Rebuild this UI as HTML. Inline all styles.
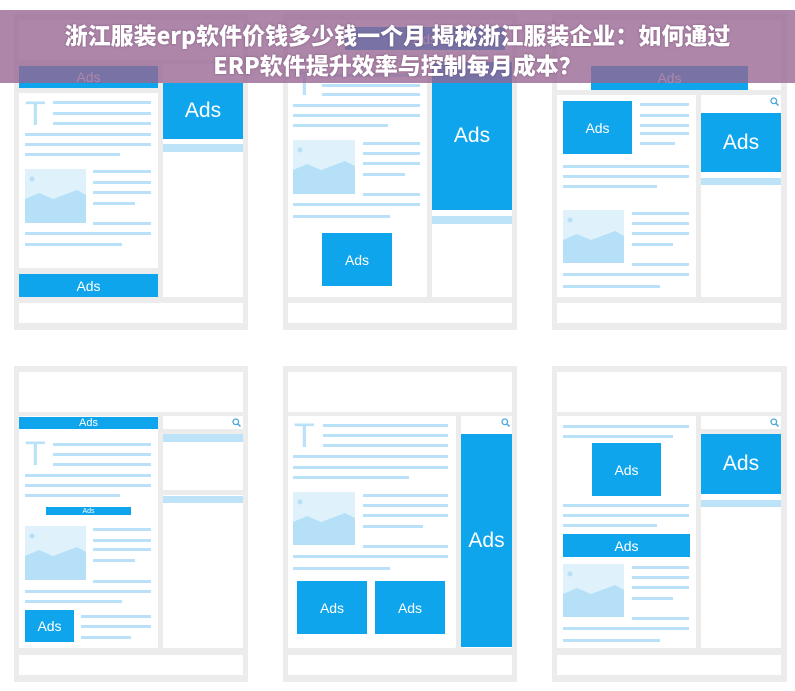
<!DOCTYPE html>
<html><head><meta charset="utf-8"><style>
*{margin:0;padding:0;box-sizing:border-box}
body{width:795px;height:691px;background:#fff;position:relative;overflow:hidden;font-family:"Liberation Sans","DejaVu Sans",sans-serif}
div,svg{position:absolute}
.g{background:#ececec}
.w{background:#fff}
.l{background:#b9e2f8;height:3px}
.lb{background:#bde3f8}
.a{background:#0ea5ec;color:#fff;display:flex;align-items:center;justify-content:center}
.t{color:#b9e2f8;font-size:34px;line-height:28px;font-family:"Liberation Sans",sans-serif;font-weight:300}
.ban{left:0;top:10px;width:795px;height:73px;background:rgba(150,100,145,0.78)}
.tt{left:0;width:795px;text-align:center;color:#fff;font-weight:900;font-size:23px;font-family:"Noto Sans CJK SC","Liberation Sans",sans-serif;text-shadow:0 0 2px rgba(80,40,80,.5);white-space:nowrap}
</style></head><body>

<!-- panel 1 -->
<div class="g" style="left:14px;top:14px;width:234px;height:316px"></div>
<div class="w" style="left:19px;top:20px;width:224px;height:40px"></div>
<div class="w" style="left:19px;top:93px;width:139px;height:175px"></div>
<div class="w" style="left:163px;top:64px;width:80px;height:233px"></div>
<div class="w" style="left:19px;top:303px;width:224px;height:20px"></div>
<div class="a" style="left:19px;top:66px;width:139px;height:22px;font-size:14px">Ads</div>
<div class="a" style="left:163px;top:83px;width:80px;height:56px;font-size:21px">Ads</div>
<div class="lb" style="left:163px;top:144px;width:80px;height:8px"></div>
<div class="t" style="left:25px;top:100px">T</div>
<div class="l" style="left:53px;top:101px;width:98px"></div>
<div class="l" style="left:53px;top:112px;width:98px"></div>
<div class="l" style="left:53px;top:122px;width:98px"></div>
<div class="l" style="left:25px;top:133px;width:126px"></div>
<div class="l" style="left:25px;top:143px;width:126px"></div>
<div class="l" style="left:25px;top:153px;width:95px"></div>
<svg style="left:25px;top:169px" width="61" height="54"><rect width="61" height="54" fill="#dff2fc"/><circle cx="7" cy="10" r="2.5" fill="#b5e0f7"/><polygon points="0,30 14,24 28,30 52,21 61,26 61,54 0,54" fill="#b5e0f7"/></svg>
<div class="l" style="left:93px;top:170px;width:58px"></div>
<div class="l" style="left:93px;top:181px;width:58px"></div>
<div class="l" style="left:93px;top:191px;width:58px"></div>
<div class="l" style="left:93px;top:202px;width:42px"></div>
<div class="l" style="left:93px;top:222px;width:58px"></div>
<div class="l" style="left:25px;top:232px;width:126px"></div>
<div class="l" style="left:25px;top:243px;width:97px"></div>
<div class="a" style="left:19px;top:274px;width:139px;height:23px;font-size:14px">Ads</div>

<!-- panel 2 -->
<div class="g" style="left:283px;top:14px;width:234px;height:316px"></div>
<div class="w" style="left:288px;top:20px;width:224px;height:40px"></div>
<div class="a" style="left:345px;top:27px;width:160px;height:23px;font-size:14px">Ads</div>
<div class="w" style="left:288px;top:64px;width:139px;height:233px"></div>
<div class="w" style="left:432px;top:64px;width:80px;height:233px"></div>
<div class="w" style="left:288px;top:303px;width:224px;height:20px"></div>
<div class="a" style="left:432px;top:62px;width:80px;height:148px;font-size:21px">Ads</div>
<div class="lb" style="left:432px;top:216px;width:80px;height:8px"></div>
<div class="t" style="left:294px;top:70px">T</div>
<div class="l" style="left:322px;top:74px;width:98px"></div>
<div class="l" style="left:322px;top:84px;width:98px"></div>
<div class="l" style="left:322px;top:93px;width:98px"></div>
<div class="l" style="left:293px;top:104px;width:127px"></div>
<div class="l" style="left:293px;top:114px;width:127px"></div>
<div class="l" style="left:293px;top:124px;width:95px"></div>
<svg style="left:293px;top:140px" width="62" height="54"><rect width="62" height="54" fill="#dff2fc"/><circle cx="7" cy="10" r="2.5" fill="#b5e0f7"/><polygon points="0,30 14,24 28,30 52,21 62,26 62,54 0,54" fill="#b5e0f7"/></svg>
<div class="l" style="left:363px;top:142px;width:57px"></div>
<div class="l" style="left:363px;top:152px;width:57px"></div>
<div class="l" style="left:363px;top:162px;width:57px"></div>
<div class="l" style="left:363px;top:173px;width:42px"></div>
<div class="l" style="left:363px;top:193px;width:57px"></div>
<div class="l" style="left:293px;top:203px;width:127px"></div>
<div class="l" style="left:293px;top:215px;width:97px"></div>
<div class="a" style="left:322px;top:233px;width:70px;height:53px;font-size:14px">Ads</div>

<!-- panel 3 -->
<div class="g" style="left:552px;top:14px;width:235px;height:316px"></div>
<div class="w" style="left:557px;top:20px;width:224px;height:70px"></div>
<div class="a" style="left:591px;top:66px;width:157px;height:24px;font-size:14px">Ads</div>
<div class="w" style="left:557px;top:95px;width:139px;height:202px"></div>
<div class="w" style="left:701px;top:95px;width:80px;height:202px"></div>
<div class="w" style="left:557px;top:303px;width:224px;height:20px"></div>
<svg style="left:770px;top:97px" width="9" height="9"><circle cx="3.8" cy="3.8" r="2.8" fill="none" stroke="#4aa8dd" stroke-width="1.3"/><line x1="5.8" y1="5.8" x2="8.5" y2="8.5" stroke="#4aa8dd" stroke-width="1.5"/></svg>
<div class="a" style="left:701px;top:113px;width:80px;height:59px;font-size:21px">Ads</div>
<div class="lb" style="left:701px;top:178px;width:80px;height:7px"></div>
<div class="a" style="left:563px;top:101px;width:69px;height:53px;font-size:14px">Ads</div>
<div class="l" style="left:640px;top:103px;width:49px"></div>
<div class="l" style="left:640px;top:114px;width:49px"></div>
<div class="l" style="left:640px;top:124px;width:49px"></div>
<div class="l" style="left:640px;top:132px;width:49px"></div>
<div class="l" style="left:640px;top:142px;width:35px"></div>
<div class="l" style="left:563px;top:165px;width:126px"></div>
<div class="l" style="left:563px;top:175px;width:126px"></div>
<div class="l" style="left:563px;top:185px;width:94px"></div>
<svg style="left:563px;top:210px" width="61" height="53"><rect width="61" height="53" fill="#dff2fc"/><circle cx="7" cy="10" r="2.5" fill="#b5e0f7"/><polygon points="0,30 14,24 28,30 52,21 61,26 61,53 0,53" fill="#b5e0f7"/></svg>
<div class="l" style="left:632px;top:212px;width:57px"></div>
<div class="l" style="left:632px;top:222px;width:57px"></div>
<div class="l" style="left:632px;top:232px;width:57px"></div>
<div class="l" style="left:632px;top:243px;width:41px"></div>
<div class="l" style="left:632px;top:263px;width:57px"></div>
<div class="l" style="left:563px;top:273px;width:126px"></div>
<div class="l" style="left:563px;top:285px;width:97px"></div>

<!-- panel 4 -->
<div class="g" style="left:14px;top:366px;width:234px;height:316px"></div>
<div class="w" style="left:19px;top:372px;width:224px;height:40px"></div>
<div class="w" style="left:19px;top:416px;width:139px;height:232px"></div>
<div class="w" style="left:163px;top:416px;width:80px;height:232px"></div>
<div class="g" style="left:163px;top:490px;width:80px;height:5px"></div>
<div class="w" style="left:19px;top:655px;width:224px;height:20px"></div>
<div class="a" style="left:19px;top:417px;width:139px;height:12px;font-size:11px">Ads</div>
<svg style="left:232px;top:418px" width="9" height="9"><circle cx="3.8" cy="3.8" r="2.8" fill="none" stroke="#4aa8dd" stroke-width="1.3"/><line x1="5.8" y1="5.8" x2="8.5" y2="8.5" stroke="#4aa8dd" stroke-width="1.5"/></svg>
<div class="g" style="left:163px;top:429px;width:80px;height:5px"></div>
<div class="lb" style="left:163px;top:434px;width:80px;height:8px"></div>
<div class="lb" style="left:163px;top:496px;width:80px;height:7px"></div>
<div class="t" style="left:25px;top:440px">T</div>
<div class="l" style="left:53px;top:443px;width:98px"></div>
<div class="l" style="left:53px;top:453px;width:98px"></div>
<div class="l" style="left:53px;top:463px;width:98px"></div>
<div class="l" style="left:25px;top:474px;width:126px"></div>
<div class="l" style="left:25px;top:484px;width:126px"></div>
<div class="l" style="left:25px;top:494px;width:95px"></div>
<div class="a" style="left:46px;top:507px;width:85px;height:8px;font-size:7px">Ads</div>
<svg style="left:25px;top:526px" width="61" height="54"><rect width="61" height="54" fill="#dff2fc"/><circle cx="7" cy="10" r="2.5" fill="#b5e0f7"/><polygon points="0,30 14,24 28,30 52,21 61,26 61,54 0,54" fill="#b5e0f7"/></svg>
<div class="l" style="left:93px;top:528px;width:58px"></div>
<div class="l" style="left:93px;top:539px;width:58px"></div>
<div class="l" style="left:93px;top:548px;width:58px"></div>
<div class="l" style="left:93px;top:559px;width:42px"></div>
<div class="l" style="left:93px;top:580px;width:58px"></div>
<div class="l" style="left:25px;top:590px;width:126px"></div>
<div class="l" style="left:25px;top:600px;width:97px"></div>
<div class="a" style="left:25px;top:610px;width:49px;height:32px;font-size:14px">Ads</div>
<div class="l" style="left:81px;top:615px;width:70px"></div>
<div class="l" style="left:81px;top:625px;width:70px"></div>
<div class="l" style="left:81px;top:636px;width:50px"></div>

<!-- panel 5 -->
<div class="g" style="left:283px;top:366px;width:234px;height:316px"></div>
<div class="w" style="left:288px;top:372px;width:224px;height:40px"></div>
<div class="w" style="left:288px;top:416px;width:168px;height:232px"></div>
<div class="w" style="left:461px;top:416px;width:51px;height:232px"></div>
<div class="w" style="left:288px;top:655px;width:224px;height:20px"></div>
<svg style="left:501px;top:418px" width="9" height="9"><circle cx="3.8" cy="3.8" r="2.8" fill="none" stroke="#4aa8dd" stroke-width="1.3"/><line x1="5.8" y1="5.8" x2="8.5" y2="8.5" stroke="#4aa8dd" stroke-width="1.5"/></svg>
<div class="a" style="left:461px;top:434px;width:51px;height:213px;font-size:21px">Ads</div>
<div class="t" style="left:294px;top:422px">T</div>
<div class="l" style="left:323px;top:424px;width:125px"></div>
<div class="l" style="left:323px;top:434px;width:125px"></div>
<div class="l" style="left:323px;top:444px;width:125px"></div>
<div class="l" style="left:293px;top:455px;width:155px"></div>
<div class="l" style="left:293px;top:466px;width:155px"></div>
<div class="l" style="left:293px;top:476px;width:116px"></div>
<svg style="left:293px;top:492px" width="62" height="53"><rect width="62" height="53" fill="#dff2fc"/><circle cx="7" cy="10" r="2.5" fill="#b5e0f7"/><polygon points="0,30 14,24 28,30 52,21 62,26 62,53 0,53" fill="#b5e0f7"/></svg>
<div class="l" style="left:363px;top:494px;width:85px"></div>
<div class="l" style="left:363px;top:504px;width:85px"></div>
<div class="l" style="left:363px;top:514px;width:85px"></div>
<div class="l" style="left:363px;top:525px;width:60px"></div>
<div class="l" style="left:363px;top:545px;width:85px"></div>
<div class="l" style="left:293px;top:555px;width:155px"></div>
<div class="l" style="left:293px;top:567px;width:97px"></div>
<div class="a" style="left:297px;top:581px;width:70px;height:53px;font-size:14px">Ads</div>
<div class="a" style="left:375px;top:581px;width:70px;height:53px;font-size:14px">Ads</div>

<!-- panel 6 -->
<div class="g" style="left:552px;top:366px;width:235px;height:316px"></div>
<div class="w" style="left:557px;top:372px;width:224px;height:40px"></div>
<div class="w" style="left:557px;top:416px;width:139px;height:232px"></div>
<div class="w" style="left:701px;top:416px;width:80px;height:232px"></div>
<div class="w" style="left:557px;top:655px;width:224px;height:20px"></div>
<svg style="left:770px;top:418px" width="9" height="9"><circle cx="3.8" cy="3.8" r="2.8" fill="none" stroke="#4aa8dd" stroke-width="1.3"/><line x1="5.8" y1="5.8" x2="8.5" y2="8.5" stroke="#4aa8dd" stroke-width="1.5"/></svg>
<div class="g" style="left:701px;top:429px;width:80px;height:5px"></div>
<div class="a" style="left:701px;top:434px;width:80px;height:60px;font-size:21px">Ads</div>
<div class="lb" style="left:701px;top:500px;width:80px;height:7px"></div>
<div class="l" style="left:563px;top:425px;width:126px"></div>
<div class="l" style="left:563px;top:435px;width:110px"></div>
<div class="a" style="left:592px;top:443px;width:69px;height:53px;font-size:14px">Ads</div>
<div class="l" style="left:563px;top:504px;width:126px"></div>
<div class="l" style="left:563px;top:514px;width:126px"></div>
<div class="l" style="left:563px;top:524px;width:94px"></div>
<div class="a" style="left:563px;top:534px;width:127px;height:23px;font-size:14px">Ads</div>
<svg style="left:563px;top:564px" width="61" height="53"><rect width="61" height="53" fill="#dff2fc"/><circle cx="7" cy="10" r="2.5" fill="#b5e0f7"/><polygon points="0,30 14,24 28,30 52,21 61,26 61,53 0,53" fill="#b5e0f7"/></svg>
<div class="l" style="left:632px;top:566px;width:57px"></div>
<div class="l" style="left:632px;top:576px;width:57px"></div>
<div class="l" style="left:632px;top:586px;width:57px"></div>
<div class="l" style="left:632px;top:597px;width:41px"></div>
<div class="l" style="left:632px;top:617px;width:57px"></div>
<div class="l" style="left:563px;top:627px;width:126px"></div>
<div class="l" style="left:563px;top:639px;width:97px"></div>

<!-- banner -->
<div class="ban"></div>
<div class="tt" style="top:19px;line-height:30px">浙江服装erp软件价钱多少钱一个月 揭秘浙江服装企业：如何通过</div>
<div class="tt" style="top:49px;line-height:30px">ERP软件提升效率与控制每月成本？</div>
</body></html>
